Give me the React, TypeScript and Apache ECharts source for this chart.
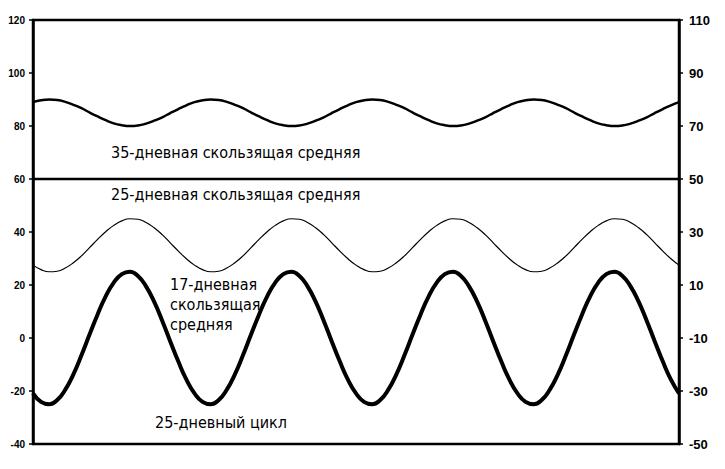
import React, { useEffect, useRef } from "react";
import * as echarts from "echarts";

const days = [
  "0", "1.25", "2.5", "3.75", "5", "6.25", "7.5", "8.75", "10", "11.25",
  "12.5", "13.75", "15", "16.25", "17.5", "18.75", "20", "21.25", "22.5", "23.75",
  "25", "26.25", "27.5", "28.75", "30", "31.25", "32.5", "33.75", "35", "36.25",
  "37.5", "38.75", "40", "41.25", "42.5", "43.75", "45", "46.25", "47.5", "48.75",
  "50", "51.25", "52.5", "53.75", "55", "56.25", "57.5", "58.75", "60", "61.25",
  "62.5", "63.75", "65", "66.25", "67.5", "68.75", "70", "71.25", "72.5", "73.75",
  "75", "76.25", "77.5", "78.75", "80", "81.25", "82.5", "83.75", "85", "86.25",
  "87.5", "88.75", "90", "91.25", "92.5", "93.75", "95", "96.25", "97.5", "98.75",
  "100",
];

const ma35 = [
  89.0, 89.7, 90.0, 89.8, 89.1, 88.0, 86.7, 85.1, 83.6, 82.2,
  81.0, 80.3, 80.0, 80.2, 80.9, 82.0, 83.3, 84.9, 86.4, 87.8,
  89.0, 89.7, 90.0, 89.8, 89.1, 88.0, 86.7, 85.1, 83.6, 82.2,
  81.0, 80.3, 80.0, 80.2, 80.9, 82.0, 83.3, 84.9, 86.4, 87.8,
  89.0, 89.7, 90.0, 89.8, 89.1, 88.0, 86.7, 85.1, 83.6, 82.2,
  81.0, 80.3, 80.0, 80.2, 80.9, 82.0, 83.3, 84.9, 86.4, 87.8,
  89.0, 89.7, 90.0, 89.8, 89.1, 88.0, 86.7, 85.1, 83.6, 82.2,
  81.0, 80.3, 80.0, 80.2, 80.9, 82.0, 83.3, 84.9, 86.4, 87.8,
  89.0,
];

const ma25 = [
  60, 60, 60, 60, 60, 60, 60, 60, 60, 60,
  60, 60, 60, 60, 60, 60, 60, 60, 60, 60,
  60, 60, 60, 60, 60, 60, 60, 60, 60, 60,
  60, 60, 60, 60, 60, 60, 60, 60, 60, 60,
  60, 60, 60, 60, 60, 60, 60, 60, 60, 60,
  60, 60, 60, 60, 60, 60, 60, 60, 60, 60,
  60, 60, 60, 60, 60, 60, 60, 60, 60, 60,
  60, 60, 60, 60, 60, 60, 60, 60, 60, 60,
  60,
];

const ma17 = [
  27.5, 25.8, 25.0, 25.2, 26.4, 28.4, 31.0, 34.1, 37.2, 40.1,
  42.5, 44.2, 45.0, 44.8, 43.6, 41.6, 39.0, 35.9, 32.8, 29.9,
  27.5, 25.8, 25.0, 25.2, 26.4, 28.4, 31.0, 34.1, 37.2, 40.1,
  42.5, 44.2, 45.0, 44.8, 43.6, 41.6, 39.0, 35.9, 32.8, 29.9,
  27.5, 25.8, 25.0, 25.2, 26.4, 28.4, 31.0, 34.1, 37.2, 40.1,
  42.5, 44.2, 45.0, 44.8, 43.6, 41.6, 39.0, 35.9, 32.8, 29.9,
  27.5, 25.8, 25.0, 25.2, 26.4, 28.4, 31.0, 34.1, 37.2, 40.1,
  42.5, 44.2, 45.0, 44.8, 43.6, 41.6, 39.0, 35.9, 32.8, 29.9,
  27.5,
];

const cycle25 = [
  -20.9, -24.1, -25.0, -23.4, -19.5, -13.7, -6.5, 1.3, 8.9, 15.7,
  20.9, 24.1, 25.0, 23.4, 19.5, 13.7, 6.5, -1.3, -8.9, -15.7,
  -20.9, -24.1, -25.0, -23.4, -19.5, -13.7, -6.5, 1.3, 8.9, 15.7,
  20.9, 24.1, 25.0, 23.4, 19.5, 13.7, 6.5, -1.3, -8.9, -15.7,
  -20.9, -24.1, -25.0, -23.4, -19.5, -13.7, -6.5, 1.3, 8.9, 15.7,
  20.9, 24.1, 25.0, 23.4, 19.5, 13.7, 6.5, -1.3, -8.9, -15.7,
  -20.9, -24.1, -25.0, -23.4, -19.5, -13.7, -6.5, 1.3, 8.9, 15.7,
  20.9, 24.1, 25.0, 23.4, 19.5, 13.7, 6.5, -1.3, -8.9, -15.7,
  -20.9,
];

const labelTexts = {
  ma35: "35-дневная скользящая средняя",
  ma25: "25-дневная скользящая средняя",
  ma17: "17-дневная\nскользящая\nсредняя",
  cycle: "25-дневный цикл",
};

export default function App() {
  const ref = useRef<HTMLDivElement>(null);
  useEffect(() => {
    if (!ref.current) return;
    const chart = echarts.init(ref.current, undefined, { renderer: "svg" });
    const axisLabel = {
      color: "#000",
      fontFamily: "Liberation Sans",
      fontWeight: "bold" as const,
      fontSize: 10,
    };
    const textStyle = {
      fill: "#000",
      fontFamily: "DejaVu Sans Condensed",
      fontSize: 16,
    };
    chart.setOption({
      animation: false,
      backgroundColor: "#fff",
      grid: {
        left: 33,
        right: 46,
        top: 20,
        bottom: 25,
        show: true,
        borderColor: "#000",
        borderWidth: 2.5,
      },
      xAxis: {
        type: "category",
        data: days,
        boundaryGap: false,
        axisLine: { show: false },
        axisTick: { show: false },
        axisLabel: { show: false },
        splitLine: { show: false },
      },
      yAxis: [
        {
          type: "value",
          min: -40,
          max: 120,
          interval: 20,
          position: "left",
          axisLine: { show: true, lineStyle: { color: "#000", width: 2.5 } },
          axisTick: { show: true, length: 4, lineStyle: { color: "#000", width: 1.5 } },
          axisLabel: { ...axisLabel, margin: 8 },
          splitLine: { show: false },
        },
        {
          type: "value",
          min: -40,
          max: 120,
          interval: 20,
          position: "right",
          axisLine: { show: true, lineStyle: { color: "#000", width: 2.5 } },
          axisTick: { show: true, length: 4, lineStyle: { color: "#000", width: 1.5 } },
          axisLabel: { ...axisLabel, fontSize: 13, margin: 10, formatter: (v: number) => String(v - 10) },
          splitLine: { show: false },
        },
      ],
      series: [
        {
          type: "line",
          data: ma35,
          smooth: true,
          symbol: "none",
          lineStyle: { color: "#000", width: 2.5 },
        },
        {
          type: "line",
          data: ma25,
          symbol: "none",
          lineStyle: { color: "#000", width: 2.5 },
        },
        {
          type: "line",
          data: ma17,
          smooth: true,
          symbol: "none",
          lineStyle: { color: "#000", width: 1.2 },
        },
        {
          type: "line",
          data: cycle25,
          smooth: true,
          symbol: "none",
          lineStyle: { color: "#000", width: 4 },
        },
      ],
      graphic: [
        { type: "text", left: 111, top: 144, style: { ...textStyle, text: labelTexts.ma35 } },
        { type: "text", left: 111, top: 186, style: { ...textStyle, text: labelTexts.ma25 } },
        { type: "text", left: 170, top: 274, style: { ...textStyle, text: labelTexts.ma17, lineHeight: 20 } },
        { type: "text", left: 155, top: 414, style: { ...textStyle, text: labelTexts.cycle } },
      ],
    });
    return () => chart.dispose();
  }, []);
  return <div ref={ref} style={{ width: 725, height: 469, margin: -8 }} />;
}
